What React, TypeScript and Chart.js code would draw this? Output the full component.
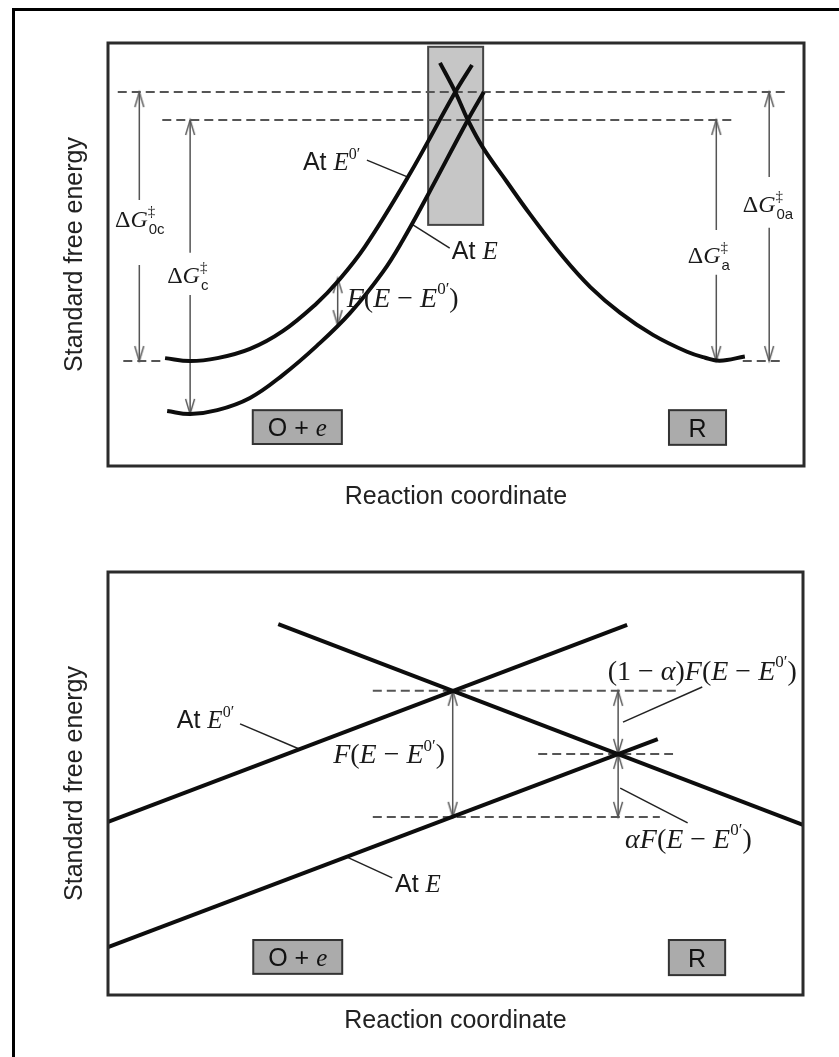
import { useEffect, useRef } from 'react';
import { Chart, registerables } from 'chart.js';
Chart.register(...registerables);

const SANS = '"Liberation Sans", Arial, Helvetica, sans-serif';
const SERIF = '"Liberation Serif", "Times New Roman", serif';
const INK = '#1a1a1a';

// ================= Panel 1: parabolic free-energy curves =================
// reaction coordinate 0..100, standard free energy 0..100 (arbitrary units)
const p1AtE0X = [8.2, 11.8, 15.7, 20.4, 25.1, 30.0, 33.0, 36.9, 43.1, 49.9, 52.3];
const p1AtE0Y = [25.5, 24.8, 25.5, 27.7, 31.9, 38.5, 43.6, 51.8, 68.3, 88.4, 94.8];
const p1AtEX = [8.5, 11.8, 15.7, 20.4, 25.1, 30.0, 34.8, 39.5, 42.4, 45.8, 51.7, 54.0];
const p1AtEY = [13.0, 12.3, 13.2, 16.1, 21.5, 28.4, 36.2, 45.9, 53.5, 63.6, 81.8, 88.4];
const p1RX = [47.7, 49.9, 51.7, 53.9, 57.3, 60.6, 65.4, 69.3, 73.6, 78.3, 83.2, 85.8, 87.9, 91.5];
const p1RY = [95.3, 88.4, 81.8, 75.2, 67.2, 59.6, 49.4, 42.3, 36.2, 31.0, 27.0, 25.6, 24.9, 25.9];

// energy levels
const p1TS0 = 88.4; // transition state at E0'
const p1TS = 81.8; // transition state at E
const p1Min0 = 24.8; // minimum O+e at E0' and R
const p1MinE = 12.3; // minimum O+e at E

// dashed guide lines [xStart, xEnd, level]
const p1Dashes = [
  [1.4, 97.7, p1TS0],
  [7.8, 90.1, p1TS],
  [2.2, 8.2, p1Min0],
  [91.2, 97.0, p1Min0],
];

// vertical arrows [x, top, bottom, gapTop, gapBottom]
const p1Arrows = [
  [4.5, p1TS0, p1Min0, 62.9, 47.5],
  [11.8, p1TS, p1MinE, 50.4, 40.4],
  [87.4, p1TS, p1Min0, 55.8, 45.2],
  [95.0, p1TS0, p1Min0, 68.3, 56.3],
  [33.0, 44.4, 33.3, null, null],
];

// leader lines [x1, y1, x2, y2]
const p1Leaders = [
  [37.2, 72.3, 43.1, 68.3],
  [43.7, 57.1, 49.1, 51.5],
];

const p1TSRegion = { x0: 46.0, x1: 53.9, y0: 57.0, y1: 99.1 };

// ================= Panel 2: linear approximation =================
const p2AtE0X = [0, 74.7];
const p2AtE0Y = [40.9, 87.5];
const p2RX = [24.5, 100];
const p2RY = [87.7, 40.2];
const p2AtEX = [0, 79.1];
const p2AtEY = [11.3, 60.5];

const p2Cross0X = 49.6;
const p2Cross0 = 71.9;
const p2CrossX = 73.4;
const p2Cross = 57.0;
const p2Shift = 42.1;

const p2Dashes = [
  [38.1, 81.9, p2Cross0],
  [61.9, 81.3, p2Cross],
  [38.1, 79.4, p2Shift],
];

const p2Arrows = [
  [p2Cross0X, p2Cross0, p2Shift, null, null],
  [p2CrossX, p2Cross0, p2Cross, null, null],
  [p2CrossX, p2Cross, p2Shift, null, null],
];

const p2Leaders = [
  [19.0, 64.1, 27.6, 58.1],
  [85.5, 72.8, 74.1, 64.5],
  [73.7, 48.9, 83.4, 40.7],
  [34.4, 32.6, 40.9, 27.7],
];

// ================= rich text =================
type Seg = { t: string; f: 's' | 'r' | 'i'; v?: 'sup' | 'sub'; under?: string };
const S = (t: string): Seg => ({ t, f: 's' });
const R = (t: string): Seg => ({ t, f: 'r' });
const I = (t: string): Seg => ({ t, f: 'i' });
const SUP = (t: string): Seg => ({ t, f: 'r', v: 'sup' });
const FE: Seg[] = [I('F'), R('('), I('E'), R(' − '), I('E'), SUP('0′'), R(')')];
const DG = (sub: string): Seg[] => [R('Δ'), I('G'), { t: '‡', f: 'r', v: 'sup', under: sub }];

type Label = { x: number; y: number; size: number; segs: Seg[] };
type Box = { x0: number; x1: number; y0: number; y1: number; segs: Seg[] };

const p1Labels: Label[] = [
  { x: 28.0, y: 70.0, size: 25, segs: [S('At '), I('E'), SUP('0′')] },
  { x: 49.4, y: 48.9, size: 25, segs: [S('At '), I('E')] },
  { x: 34.3, y: 37.6, size: 28, segs: FE },
  { x: 1.0, y: 56.5, size: 24, segs: DG('0c') },
  { x: 8.5, y: 43.3, size: 24, segs: DG('c') },
  { x: 83.3, y: 48.0, size: 24, segs: DG('a') },
  { x: 91.2, y: 60.0, size: 24, segs: DG('0a') },
];
const p2Labels: Label[] = [
  { x: 9.9, y: 63.1, size: 25, segs: [S('At '), I('E'), SUP('0′')] },
  { x: 32.4, y: 54.8, size: 28, segs: FE },
  { x: 71.9, y: 74.5, size: 28, segs: [R('(1 − '), I('α'), R(')'), ...FE] },
  { x: 74.4, y: 34.8, size: 28, segs: [I('α'), ...FE] },
  { x: 41.3, y: 24.4, size: 25, segs: [S('At '), I('E')] },
];
const p1Boxes: Box[] = [
  { x0: 20.8, x1: 33.6, y0: 5.2, y1: 13.2, segs: [S('O + '), I('e')] },
  { x0: 80.6, x1: 88.8, y0: 5.0, y1: 13.2, segs: [S('R')] },
];
const p2Boxes: Box[] = [
  { x0: 20.9, x1: 33.7, y0: 5.0, y1: 13.0, segs: [S('O + '), I('e')] },
  { x0: 80.7, x1: 88.8, y0: 4.7, y1: 13.0, segs: [S('R')] },
];

function fontOf(f: string, size: number) {
  if (f === 'i') return `italic ${size}px ${SERIF}`;
  if (f === 'r') return `${size}px ${SERIF}`;
  return `${size}px ${SANS}`;
}

function rich(ctx: CanvasRenderingContext2D, segs: Seg[], x: number, y: number, size: number, draw: boolean) {
  let cx = x;
  for (const s of segs) {
    const sz = s.v ? Math.round(size * 0.62) : size;
    ctx.font = fontOf(s.f, sz);
    const dy = s.v === 'sup' ? -size * 0.45 : s.v === 'sub' ? size * 0.25 : 0;
    if (draw) ctx.fillText(s.t, cx, y + dy);
    let w = ctx.measureText(s.t).width;
    if (s.under) {
      ctx.font = fontOf('s', sz);
      if (draw) ctx.fillText(s.under, cx + 1, y + size * 0.3);
      w = Math.max(w, ctx.measureText(s.under).width + 1);
    }
    cx += w;
  }
  return cx - x;
}

function makeChevron() {
  const c = document.createElement('canvas');
  c.width = 14;
  c.height = 40;
  const g = c.getContext('2d')!;
  g.strokeStyle = '#555';
  g.lineWidth = 1.4;
  g.beginPath();
  g.moveTo(7 - 4.5, 20 + 15);
  g.lineTo(7, 20);
  g.lineTo(7 + 4.5, 20 + 15);
  g.stroke();
  return c;
}

const pts = (xs: number[], ys: number[]) => xs.map((x, i) => ({ x, y: ys[i] }));

function curve(xs: number[], ys: number[], tension: number) {
  return {
    data: pts(xs, ys),
    borderColor: '#0d0d0d',
    borderWidth: 4,
    pointRadius: 0,
    tension,
    fill: false,
  };
}

function dashed(d: number[]) {
  return {
    data: [{ x: d[0], y: d[2] }, { x: d[1], y: d[2] }],
    borderColor: '#555',
    borderWidth: 2,
    borderDash: [9, 5],
    pointRadius: 0,
    fill: false,
  };
}

function leader(d: number[]) {
  return {
    data: [{ x: d[0], y: d[1] }, { x: d[2], y: d[3] }],
    borderColor: '#222',
    borderWidth: 1.5,
    pointRadius: 0,
    fill: false,
  };
}

function arrow(a: (number | null)[], chev: HTMLCanvasElement) {
  const [x, top, bot, g0, g1] = a as number[];
  const p: { x: number; y: number | null }[] =
    g0 != null ? [{ x, y: top }, { x, y: g0 }, { x, y: null }, { x, y: g1 }, { x, y: bot }] : [{ x, y: top }, { x, y: bot }];
  const n = p.length;
  return {
    data: p,
    borderColor: '#555',
    borderWidth: 1.5,
    spanGaps: false,
    fill: false,
    pointStyle: p.map(() => chev),
    pointRotation: p.map((_, i) => (i === n - 1 ? 180 : 0)),
    pointRadius: p.map((_, i) => (i === 0 || i === n - 1 ? 5 : 0)),
  };
}

function diagramPlugin(labels: Label[], boxes: Box[], shade: typeof p1TSRegion | null) {
  return {
    id: 'diagram',
    beforeDatasetsDraw(chart: any) {
      if (!shade) return;
      const { ctx, scales } = chart;
      const x0 = scales.x.getPixelForValue(shade.x0);
      const x1 = scales.x.getPixelForValue(shade.x1);
      const y0 = scales.y.getPixelForValue(shade.y0);
      const y1 = scales.y.getPixelForValue(shade.y1);
      ctx.save();
      ctx.fillStyle = '#c6c6c6';
      ctx.fillRect(x0, y1, x1 - x0, y0 - y1);
      ctx.strokeStyle = '#444';
      ctx.lineWidth = 2;
      ctx.strokeRect(x0, y1, x1 - x0, y0 - y1);
      ctx.restore();
    },
    afterDatasetsDraw(chart: any) {
      const { ctx, scales } = chart;
      ctx.save();
      ctx.textBaseline = 'alphabetic';
      ctx.textAlign = 'left';
      for (const b of boxes) {
        const x0 = scales.x.getPixelForValue(b.x0);
        const x1 = scales.x.getPixelForValue(b.x1);
        const y0 = scales.y.getPixelForValue(b.y0);
        const y1 = scales.y.getPixelForValue(b.y1);
        ctx.fillStyle = '#ababab';
        ctx.fillRect(x0, y1, x1 - x0, y0 - y1);
        ctx.strokeStyle = '#333';
        ctx.lineWidth = 2;
        ctx.strokeRect(x0, y1, x1 - x0, y0 - y1);
        const w = rich(ctx, b.segs, 0, 0, 25, false);
        ctx.fillStyle = '#111';
        rich(ctx, b.segs, (x0 + x1) / 2 - w / 2, (y0 + y1) / 2 + 9, 25, true);
      }
      ctx.fillStyle = INK;
      for (const l of labels) {
        rich(ctx, l.segs, scales.x.getPixelForValue(l.x), scales.y.getPixelForValue(l.y), l.size, true);
      }
      ctx.restore();
    },
    afterDraw(chart: any) {
      const { ctx, chartArea: a } = chart;
      ctx.save();
      ctx.strokeStyle = '#2b2b2b';
      ctx.lineWidth = 3;
      ctx.strokeRect(a.left, a.top, a.right - a.left, a.bottom - a.top);
      ctx.restore();
    },
  };
}

function config(datasets: any[], plugin: any, pad: any, xAxisH: number, xTitlePad: number) {
  return {
    type: 'line' as const,
    data: { datasets },
    plugins: [plugin],
    options: {
      responsive: false,
      animation: false as const,
      events: [],
      layout: { padding: pad },
      plugins: { legend: { display: false }, tooltip: { enabled: false } },
      scales: {
        x: {
          type: 'linear' as const,
          min: 0,
          max: 100,
          ticks: { display: false },
          grid: { display: false, drawTicks: false },
          border: { display: false },
          title: {
            display: true,
            text: 'Reaction coordinate',
            color: '#222',
            font: { family: SANS, size: 25 },
            padding: { top: 0, bottom: xTitlePad },
          },
          afterFit: (s: any) => {
            s.height = xAxisH;
          },
        },
        y: {
          type: 'linear' as const,
          min: 0,
          max: 100,
          ticks: { display: false },
          grid: { display: false, drawTicks: false },
          border: { display: false },
          title: {
            display: true,
            text: 'Standard free energy',
            color: '#222',
            font: { family: SANS, size: 25 },
            padding: { top: 60, bottom: 0 },
          },
          afterFit: (s: any) => {
            s.width = 108;
          },
        },
      },
    },
  };
}

export default function App() {
  const topRef = useRef<HTMLCanvasElement>(null);
  const botRef = useRef<HTMLCanvasElement>(null);

  useEffect(() => {
    const chev = makeChevron();
    const ds1 = [
      curve(p1AtE0X, p1AtE0Y, 0.4),
      curve(p1AtEX, p1AtEY, 0.4),
      curve(p1RX, p1RY, 0.4),
      ...p1Dashes.map(dashed),
      ...p1Leaders.map(leader),
      ...p1Arrows.map((a) => arrow(a, chev)),
    ];
    const ds2 = [
      curve(p2AtE0X, p2AtE0Y, 0),
      curve(p2RX, p2RY, 0),
      curve(p2AtEX, p2AtEY, 0),
      ...p2Dashes.map(dashed),
      ...p2Leaders.map(leader),
      ...p2Arrows.map((a) => arrow(a, chev)),
    ];
    const c1 = new Chart(
      topRef.current!,
      config(ds1, diagramPlugin(p1Labels, p1Boxes, p1TSRegion), { left: 0, top: 43, right: 35, bottom: 0 }, 64, 18) as any
    );
    const c2 = new Chart(
      botRef.current!,
      config(ds2, diagramPlugin(p2Labels, p2Boxes, null), { left: 0, top: 42, right: 36, bottom: 0 }, 62, 21) as any
    );
    return () => {
      c1.destroy();
      c2.destroy();
    };
  }, []);

  return (
    <div style={{ position: 'absolute', left: 0, top: 0, width: 839, height: 1057, background: '#fff', overflow: 'hidden' }}>
      <div
        style={{
          position: 'absolute',
          left: 12,
          top: 8,
          width: 900,
          height: 1100,
          borderLeft: '3px solid #000',
          borderTop: '3px solid #000',
        }}
      />
      <canvas ref={topRef} width={839} height={530} style={{ position: 'absolute', left: 0, top: 0, width: 839, height: 530 }} />
      <canvas ref={botRef} width={839} height={527} style={{ position: 'absolute', left: 0, top: 530, width: 839, height: 527 }} />
    </div>
  );
}
